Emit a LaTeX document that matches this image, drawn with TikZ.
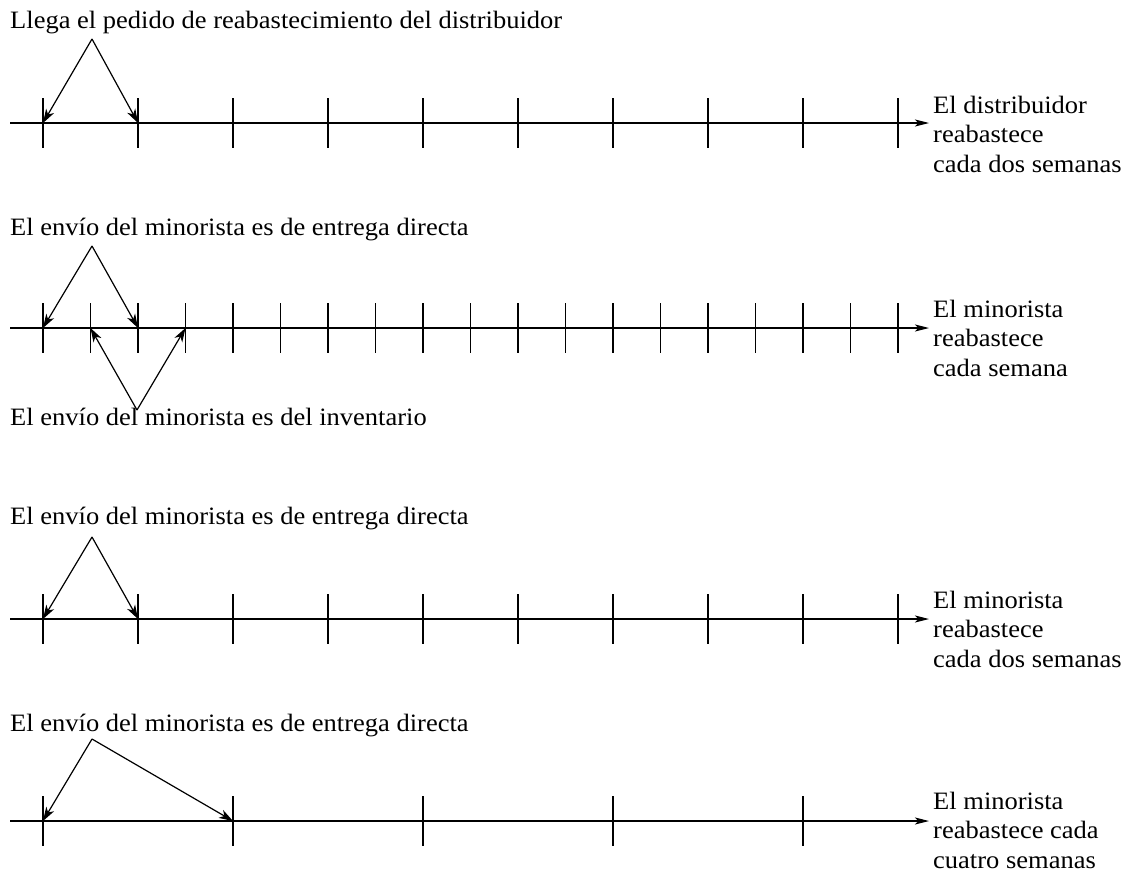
\documentclass[tikz,border=0pt]{standalone}
\usepackage{fontspec}
\setmainfont{Liberation Serif}[FakeStretch=1.06]
\usetikzlibrary{arrows.meta}
\begin{document}
\begin{tikzpicture}[x=1pt,y=-1pt,
  axis/.style={line width=1.2pt, -{Stealth[length=14pt,width=7pt,inset=3.5pt]}},
  tickline/.style={line width=1.2pt},
  ptr/.style={line width=1.2pt, -{Stealth[length=14pt,width=9pt,inset=4pt]}},
  lbl/.style={font=\fontsize{25}{29.5}\selectfont, inner sep=0pt, anchor=base west, align=left}]
\useasboundingbox (0,0) rectangle (1135,873);

% ---------- Row 1 ----------
\coordinate (s1) at (10,123);
\coordinate (e1) at (929,123);
\draw[axis] (s1) -- (e1);
\foreach \i in {0,...,9} {
  \coordinate (r1t\i) at ({43+95*\i},123);
  \draw[tickline] (r1t\i) ++(0,-25) -- ++(0,50);
}
\node[lbl] (L1) at (10,28) {Llega el pedido de reabastecimiento del distribuidor};
\coordinate (a1) at (92,39);
\draw[ptr] (a1) -- (r1t0);
\draw[ptr] (a1) -- (r1t1);
\node[lbl] (R1) at (933,172) {El distribuidor\\reabastece\\cada dos semanas};

% ---------- Row 2 ----------
\coordinate (s2) at (10,328);
\coordinate (e2) at (929,328);
\draw[axis] (s2) -- (e2);
\foreach \i in {0,...,18} {
  \coordinate (r2t\i) at ({43+47.5*\i},328);
  \draw[tickline] (r2t\i) ++(0,-25) -- ++(0,50);
}
\node[lbl] (L2) at (10,235) {El envío del minorista es de entrega directa};
\coordinate (a2) at (92,246);
\draw[ptr] (a2) -- (r2t0);
\draw[ptr] (a2) -- (r2t2);
\coordinate (b2) at (137,410);
\draw[ptr] (b2) -- (r2t1);
\draw[ptr] (b2) -- (r2t3);
\node[lbl] (L3) at (10,425) {El envío del minorista es del inventario};
\node[lbl] (R2) at (933,376) {El minorista\\reabastece\\cada semana};

% ---------- Row 3 ----------
\coordinate (s4) at (10,619);
\coordinate (e4) at (929,619);
\draw[axis] (s4) -- (e4);
\foreach \i in {0,...,9} {
  \coordinate (r4t\i) at ({43+95*\i},619);
  \draw[tickline] (r4t\i) ++(0,-25) -- ++(0,50);
}
\node[lbl] (L4) at (10,524) {El envío del minorista es de entrega directa};
\coordinate (a4) at (92,537);
\draw[ptr] (a4) -- (r4t0);
\draw[ptr] (a4) -- (r4t1);
\node[lbl] (R4) at (933,667) {El minorista\\reabastece\\cada dos semanas};

% ---------- Row 4 ----------
\coordinate (s5) at (10,821);
\coordinate (e5) at (929,821);
\draw[axis] (s5) -- (e5);
\foreach \i in {0,...,4} {
  \coordinate (r5t\i) at ({43+190*\i},821);
  \draw[tickline] (r5t\i) ++(0,-25) -- ++(0,50);
}
\node[lbl] (L5) at (10,731) {El envío del minorista es de entrega directa};
\coordinate (a5) at (92,739);
\draw[ptr] (a5) -- (r5t0);
\draw[ptr] (a5) -- (r5t1);
\node[lbl] (R5) at (933,868) {El minorista\\reabastece cada\\cuatro semanas};
\end{tikzpicture}
\end{document}
